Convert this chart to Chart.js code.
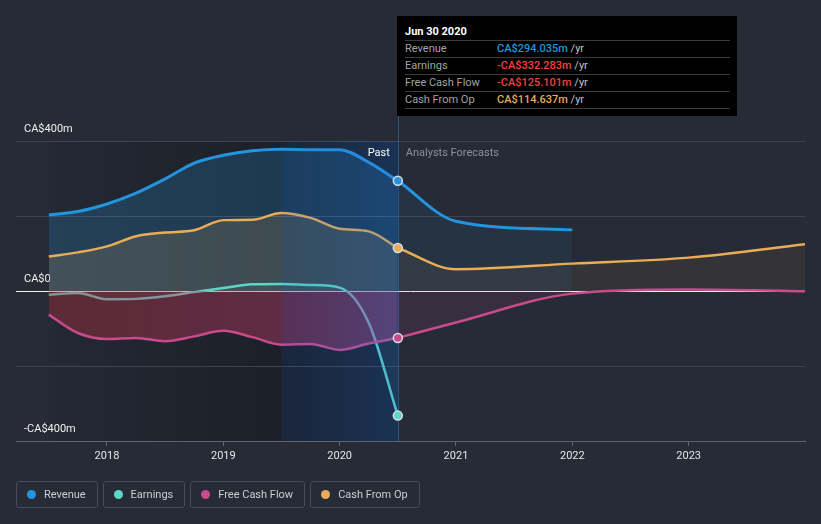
<!DOCTYPE html>
<html>
<head>
<meta charset="utf-8">
<script src="https://cdn.jsdelivr.net/npm/chart.js@4.4.1/dist/chart.umd.min.js"></script>
<style>
  body { margin: 0; background: #262b36; font-family: Roboto, sans-serif; }
  #wrap { position: relative; width: 821px; height: 524px; overflow: hidden; }
  #chart { position: absolute; left: 0; top: 0; }
  .tip { position: absolute; left: 397px; top: 16px; width: 340px; height: 100px; background: #000; font-size: 11px; }
  .tip div { position: absolute; left: 8px; white-space: nowrap; }
  .tip .title { color: #fff; font-weight: bold; }
  .tip .sep { height: 1px; width: 325px; background: #3b3b3b; }
  .tip .lbl { color: #a3a3a3; }
  .tip .val { left: 100px; }
  .tip .yr { color: #c2c2c2; }
  .legend { position: absolute; left: 16px; top: 481px; display: flex; }
  .legend .item { box-sizing: border-box; height: 27px; display: flex; align-items: center; padding: 0 11px 0 10px; margin-right: 5px; border: 1px solid #474d58; border-radius: 3px; color: #c9cdd3; font-size: 11px; }
  .legend .dot { width: 9px; height: 9px; border-radius: 50%; margin-right: 8px; }
</style>
</head>
<body>
<div id="wrap">
  <canvas id="chart" width="821" height="524"></canvas>
  <div id="tip" class="tip"></div>
  <div id="legend" class="legend"></div>
</div>
<script>
// quarterly history (year fractions), last point = Jun 30 2020
const pastDates = [2017.5, 2017.75, 2018, 2018.25, 2018.5, 2018.75, 2019, 2019.25, 2019.5, 2019.75, 2020, 2020.25, 2020.5];
const revenuePast = [203, 212, 232, 261, 299, 341, 362, 374, 378, 377, 377, 343, 294.035];
const earningsPast = [-10, -5, -22, -21, -14, -3, 8, 18, 19, 16, 9, -85, -332.283];
const fcfPast = [-63, -112, -128, -125, -134, -121, -106, -123, -143, -141, -157, -140, -125.101];
const cfoPast = [92, 103, 119, 146, 156, 162, 189, 190, 208, 195, 166, 159, 114.637];

// analyst forecasts (year ends)
const forecastDates = [2020.5, 2021, 2022, 2023, 2024];
const revenueForecast = [294.035, 186, 163];
const fcfForecast = [-125.101, -84, -7, 4, -1];
const cfoForecast = [114.637, 58, 73, 89, 125];

const xTicks = [2018, 2019, 2020, 2021, 2022, 2023];
const yTicks = [-400, -200, 0, 200, 400];
const tooltipDate = 'Jun 30 2020';
const hoverStart = 2019.5;

const C = {
  revenue: '#2394df',
  earnings: '#5cd6c6',
  fcf: '#c94b8c',
  cfo: '#e9ac57',
};

const pts = (xs, ys) => ys.map((y, i) => ({ x: xs[i], y }));
const last = a => a[a.length - 1];
const money = v => (v < 0 ? '-' : '') + 'CA$' + Math.abs(v).toFixed(3) + 'm';

function lineSet(label, data, color, fillColor, order, width) {
  return {
    label, data, order,
    borderColor: color,
    backgroundColor: fillColor,
    borderWidth: width || 2.5,
    fill: 'origin',
    pointRadius: 0,
    cubicInterpolationMode: 'monotone',
  };
}

// red -> pink gradient under the free cash flow history
function fcfFill(ctx) {
  const chart = ctx.chart;
  if (!chart.chartArea) return 'rgba(200,60,100,0.35)';
  const x = chart.scales.x;
  const g = chart.ctx.createLinearGradient(x.getPixelForValue(pastDates[0]), 0, x.getPixelForValue(last(pastDates)), 0);
  g.addColorStop(0, 'rgba(185,45,55,0.38)');
  g.addColorStop(1, 'rgba(205,70,140,0.42)');
  return g;
}

const bands = {
  id: 'bands',
  beforeDraw(chart) {
    const { ctx, chartArea: a, scales: { x } } = chart;
    const x0 = x.getPixelForValue(pastDates[0]);
    const x1 = x.getPixelForValue(hoverStart);
    const x2 = x.getPixelForValue(last(pastDates));
    ctx.save();
    const g = ctx.createLinearGradient(x0, 0, x1, 0);
    g.addColorStop(0, 'rgba(0,0,0,0.04)');
    g.addColorStop(1, 'rgba(0,0,0,0.26)');
    ctx.fillStyle = g;
    ctx.fillRect(x0, a.top, x1 - x0, a.bottom - a.top);
    ctx.fillStyle = 'rgba(0,0,0,0.33)';
    ctx.fillRect(x1, a.top, x2 - x1, a.bottom - a.top);
    ctx.restore();
  },
  beforeDatasetDraw(chart, args) {
    // hover band overlay goes right under the markers
    if (chart.data.datasets[args.index].label !== 'markers') return;
    const { ctx, chartArea: a, scales: { x } } = chart;
    const x1 = x.getPixelForValue(hoverStart);
    const x2 = x.getPixelForValue(last(pastDates));
    ctx.save();
    const g = ctx.createLinearGradient(x1, 0, x2, 0);
    g.addColorStop(0, 'rgba(30,105,215,0.12)');
    g.addColorStop(1, 'rgba(30,115,230,0.25)');
    ctx.fillStyle = g;
    ctx.fillRect(x1, a.top, x2 - x1, a.bottom - a.top);
    ctx.strokeStyle = 'rgba(45,120,200,0.55)';
    ctx.lineWidth = 1;
    ctx.beginPath();
    ctx.moveTo(Math.round(x2) + 0.5, 116);
    ctx.lineTo(Math.round(x2) + 0.5, a.bottom);
    ctx.stroke();
    ctx.font = '11px Roboto';
    ctx.textBaseline = 'middle';
    ctx.textAlign = 'right';
    ctx.fillStyle = '#ffffff';
    ctx.fillText('Past', x2 - 8, a.top + 12);
    ctx.textAlign = 'left';
    ctx.fillStyle = '#8c919a';
    ctx.fillText('Analysts Forecasts', x2 + 8, a.top + 12);
    ctx.restore();
  },
};

const markerX = last(pastDates);
const datasets = [
  {
    label: 'markers', order: 0, showLine: false, fill: false,
    data: pts([markerX, markerX, markerX, markerX], [last(revenuePast), last(cfoPast), last(fcfPast), last(earningsPast)]),
    pointRadius: 4.5, pointBorderWidth: 1.5, pointBorderColor: '#d9dee6',
    pointBackgroundColor: [C.revenue, C.cfo, C.fcf, C.earnings],
  },
  lineSet('Free Cash Flow', pts(pastDates, fcfPast), C.fcf, fcfFill, 1),
  lineSet('Free Cash Flow forecast', pts(forecastDates, fcfForecast), C.fcf, 'rgba(201,75,140,0.12)', 1),
  lineSet('Earnings', pts(pastDates, earningsPast), C.earnings, 'rgba(92,214,198,0.06)', 2),
  lineSet('Cash From Op', pts(pastDates, cfoPast), C.cfo, 'rgba(233,172,87,0.16)', 3),
  lineSet('Cash From Op forecast', pts(forecastDates, cfoForecast), C.cfo, 'rgba(233,172,87,0.07)', 3),
  lineSet('Revenue', pts(pastDates, revenuePast), C.revenue, 'rgba(35,148,223,0.22)', 4, 3),
  lineSet('Revenue forecast', pts(forecastDates, revenueForecast), C.revenue, 'rgba(35,148,223,0.08)', 4, 3),
];

Chart.defaults.font.family = 'Roboto';

new Chart(document.getElementById('chart'), {
  type: 'line',
  data: { datasets },
  plugins: [bands],
  options: {
    responsive: false,
    animation: false,
    events: [],
    layout: { padding: { left: 16, right: 16, top: 141, bottom: 0 } },
    plugins: { legend: { display: false }, tooltip: { enabled: false } },
    scales: {
      x: {
        type: 'linear',
        min: 2017.218,
        max: 2024,
        afterBuildTicks: s => { s.ticks = xTicks.map(v => ({ value: v })); },
        afterFit: s => { s.height = 83; },
        grid: { drawOnChartArea: false, drawTicks: true, tickLength: 5, color: '#5f646e' },
        border: { display: true, color: '#5f646e' },
        ticks: { color: '#e4e6ea', font: { size: 11 }, padding: 4, callback: v => String(v) },
      },
      y: {
        min: -400,
        max: 400,
        afterBuildTicks: s => { s.ticks = yTicks.map(v => ({ value: v })); },
        afterFit: s => { s.width = 0; },
        border: { display: false },
        grid: {
          drawTicks: false,
          color: c => c.tick.value === 0 ? '#f4f4f4' : (c.tick.value === -400 ? 'rgba(0,0,0,0)' : '#3e434e'),
        },
        ticks: {
          mirror: true,
          padding: 8,
          labelOffset: -12,
          color: '#f0f0f0',
          font: { size: 11 },
          callback: v => v === 0 ? 'CA$0' : (v % 400 === 0 ? (v < 0 ? '-' : '') + 'CA$' + Math.abs(v) + 'm' : ''),
        },
      },
    },
  },
});

// tooltip box for the hovered date
const rows = [
  ['Revenue', last(revenuePast), C.revenue],
  ['Earnings', last(earningsPast)],
  ['Free Cash Flow', last(fcfPast)],
  ['Cash From Op', last(cfoPast), C.cfo],
];
let html = `<div class="title" style="top:9px">${tooltipDate}</div><div class="sep" style="top:24px"></div>`;
rows.forEach(([name, v, col], i) => {
  const top = 25 + i * 17;
  const color = v < 0 ? '#f0423f' : col;
  html += `<div class="lbl" style="top:${top}px;line-height:16px">${name}</div>`;
  html += `<div class="val" style="top:${top}px;line-height:16px"><span style="color:${color};font-weight:500">${money(v)}</span><span class="yr"> /yr</span></div>`;
  html += `<div class="sep" style="top:${top + 16}px"></div>`;
});
document.getElementById('tip').innerHTML = html;

// legend
const legendItems = [['Revenue', C.revenue], ['Earnings', C.earnings], ['Free Cash Flow', C.fcf], ['Cash From Op', C.cfo]];
document.getElementById('legend').innerHTML = legendItems
  .map(([n, c]) => `<div class="item"><span class="dot" style="background:${c}"></span>${n}</div>`)
  .join('');
</script>
</body>
</html>
